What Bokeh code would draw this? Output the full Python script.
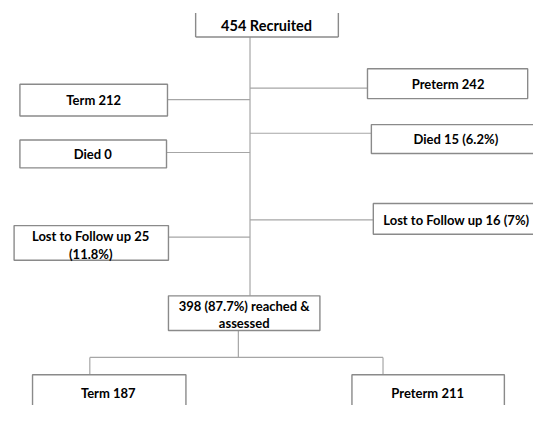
from bokeh.plotting import figure
from bokeh.models import Range1d
from bokeh.core.properties import value
from bokeh.embed import file_html
from bokeh.resources import INLINE

# ---- data (counts) ----
recruited = 454
term_n = 212
preterm_n = 242
term_died = 0
preterm_died = 15
preterm_died_pct = 6.2
term_lost = 25
term_lost_pct = 11.8
preterm_lost = 16
preterm_lost_pct = 7
reached = 398
reached_pct = 87.7
term_final = 187
preterm_final = 211

# ---- layout (image-pixel coordinates, y downward) ----
# boxes: left, right, top, bottom
box_left = [20, 378, 382, 20, 384, 14, 173, 33, 362]
box_right = [172, 543, 560, 171, 560, 173, 329, 191, 519]
box_top = [87, 71, 129, 145, 211, 234, 307, 389, 389]
box_bottom = [120, 102, 159, 174, 243, 270, 343, 440, 440]

texts = [
    f"Term {term_n}",
    f"Preterm {preterm_n}",
    f"Died {preterm_died} ({preterm_died_pct}%)",
    f"Died {term_died}",
    f"Lost to Follow up {preterm_lost} ({preterm_lost_pct}%)",
    f"Lost to Follow up {term_lost}",
    f"({term_lost_pct}%)",
    f"{reached} ({reached_pct}%) reached &",
    "assessed",
    f"Term {term_final}",
    f"Preterm {preterm_final}",
]
text_x = [96, 461, 469, 95, 469.5, 93, 93, 251, 251, 111, 440]
text_y = [103, 87, 144, 160, 228, 245, 263, 318, 335, 408, 408]

# connectors
seg_x0 = [257, 172, 257, 257, 171, 257, 173, 245, 92, 92, 394]
seg_y0 = [38, 103, 91, 138, 158, 228, 246, 343, 371, 371, 371]
seg_x1 = [257, 257, 378, 382, 257, 384, 257, 245, 394, 92, 394]
seg_y1 = [307, 103, 91, 138, 158, 228, 246, 371, 371, 389, 389]

p = figure(width=533, height=405, output_backend="svg", toolbar_location=None,
           x_range=Range1d(0, 549), y_range=Range1d(421, 0),
           x_axis_location=None, y_axis_location=None, min_border=0)
p.grid.visible = False
p.outline_line_color = None
p.background_fill_color = "white"

connector_color = "#a6a6a6"
border_color = "#8a8a8a"

p.segment(x0=seg_x0, y0=seg_y0, x1=seg_x1, y1=seg_y1,
          line_color=connector_color, line_width=1.2)

# top box (top edge outside the picture)
p.quad(left=[201], right=[348], top=[13], bottom=[38], fill_color="white", line_color=None)
p.segment(x0=[201, 348, 201], y0=[13, 13, 38], x1=[201, 348, 348], y1=[38, 38, 38],
          line_color=border_color, line_width=1.4)

p.quad(left=box_left, right=box_right, top=box_top, bottom=box_bottom,
       fill_color="white", line_color=border_color, line_width=1.4)

font = value("Lato")
p.text(x=[274], y=[26], text=[f"{recruited} Recruited"], text_font=font,
       text_font_size="14.5px", text_font_style="bold", text_align="center",
       text_baseline="middle", text_color="black")
p.text(x=text_x, y=text_y, text=texts, text_font=font,
       text_font_size="13px", text_font_style="bold", text_align="center",
       text_baseline="middle", text_color="black")

open("out.html", "w").write(file_html(p, INLINE))
